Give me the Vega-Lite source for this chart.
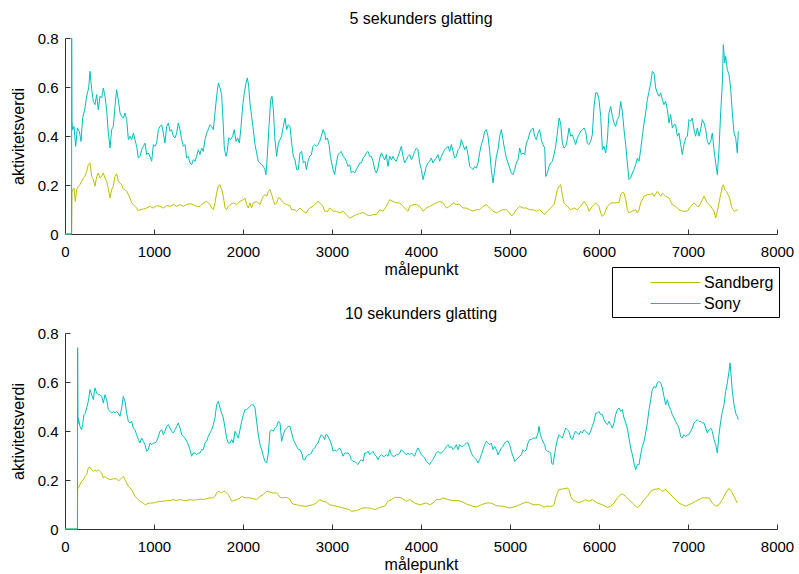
{
"$schema": "https://vega.github.io/schema/vega-lite/v6.json",
"background": "white",
"padding": {"left": 10, "top": 11, "right": 5, "bottom": 2},
"config": {
 "font": "Liberation Sans",
 "view": {"stroke": null},
 "axis": {"grid": false, "domainColor": "#333333", "tickColor": "#333333", "labelColor": "#000000", "titleColor": "#000000", "labelFontSize": 15, "titleFontSize": 16, "titleFontWeight": "normal", "tickSize": -5, "labelPadding": 12, "labelFlush": false, "labelOverlap": false},
 "axisX": {"labelPadding": 15, "titlePadding": 2},
 "axisY": {"titlePadding": 11},
 "title": {"fontSize": 16, "fontWeight": "normal", "color": "#000000"},
 "line": {"strokeWidth": 1}
},
"datasets": {
"p5": [
{"x":0,"y":0,"s":"Sandberg"},{"x":74,"y":0,"s":"Sandberg"},{"x":78,"y":0.17,"s":"Sandberg"},{"x":86,"y":0.181,"s":"Sandberg"},{"x":101,"y":0.188,"s":"Sandberg"},{"x":116,"y":0.133,"s":"Sandberg"},{"x":131,"y":0.181,"s":"Sandberg"},{"x":150,"y":0.195,"s":"Sandberg"},{"x":168,"y":0.201,"s":"Sandberg"},{"x":187,"y":0.215,"s":"Sandberg"},{"x":206,"y":0.229,"s":"Sandberg"},{"x":225,"y":0.235,"s":"Sandberg"},{"x":243,"y":0.256,"s":"Sandberg"},{"x":262,"y":0.283,"s":"Sandberg"},{"x":281,"y":0.29,"s":"Sandberg"},{"x":300,"y":0.235,"s":"Sandberg"},{"x":318,"y":0.222,"s":"Sandberg"},{"x":337,"y":0.195,"s":"Sandberg"},{"x":356,"y":0.235,"s":"Sandberg"},{"x":374,"y":0.249,"s":"Sandberg"},{"x":393,"y":0.229,"s":"Sandberg"},{"x":412,"y":0.235,"s":"Sandberg"},{"x":431,"y":0.249,"s":"Sandberg"},{"x":449,"y":0.229,"s":"Sandberg"},{"x":468,"y":0.215,"s":"Sandberg"},{"x":487,"y":0.184,"s":"Sandberg"},{"x":506,"y":0.147,"s":"Sandberg"},{"x":524,"y":0.181,"s":"Sandberg"},{"x":543,"y":0.195,"s":"Sandberg"},{"x":562,"y":0.235,"s":"Sandberg"},{"x":580,"y":0.246,"s":"Sandberg"},{"x":599,"y":0.215,"s":"Sandberg"},{"x":618,"y":0.208,"s":"Sandberg"},{"x":637,"y":0.201,"s":"Sandberg"},{"x":655,"y":0.184,"s":"Sandberg"},{"x":674,"y":0.181,"s":"Sandberg"},{"x":693,"y":0.174,"s":"Sandberg"},{"x":712,"y":0.161,"s":"Sandberg"},{"x":730,"y":0.147,"s":"Sandberg"},{"x":749,"y":0.127,"s":"Sandberg"},{"x":768,"y":0.12,"s":"Sandberg"},{"x":786,"y":0.113,"s":"Sandberg"},{"x":805,"y":0.106,"s":"Sandberg"},{"x":824,"y":0.095,"s":"Sandberg"},{"x":843,"y":0.099,"s":"Sandberg"},{"x":880,"y":0.102,"s":"Sandberg"},{"x":918,"y":0.106,"s":"Sandberg"},{"x":955,"y":0.113,"s":"Sandberg"},{"x":993,"y":0.106,"s":"Sandberg"},{"x":1030,"y":0.116,"s":"Sandberg"},{"x":1067,"y":0.113,"s":"Sandberg"},{"x":1105,"y":0.106,"s":"Sandberg"},{"x":1142,"y":0.116,"s":"Sandberg"},{"x":1180,"y":0.113,"s":"Sandberg"},{"x":1217,"y":0.12,"s":"Sandberg"},{"x":1255,"y":0.113,"s":"Sandberg"},{"x":1292,"y":0.12,"s":"Sandberg"},{"x":1329,"y":0.113,"s":"Sandberg"},{"x":1367,"y":0.12,"s":"Sandberg"},{"x":1404,"y":0.124,"s":"Sandberg"},{"x":1442,"y":0.12,"s":"Sandberg"},{"x":1479,"y":0.113,"s":"Sandberg"},{"x":1517,"y":0.113,"s":"Sandberg"},{"x":1554,"y":0.127,"s":"Sandberg"},{"x":1592,"y":0.133,"s":"Sandberg"},{"x":1629,"y":0.12,"s":"Sandberg"},{"x":1648,"y":0.106,"s":"Sandberg"},{"x":1667,"y":0.099,"s":"Sandberg"},{"x":1685,"y":0.127,"s":"Sandberg"},{"x":1704,"y":0.167,"s":"Sandberg"},{"x":1723,"y":0.197,"s":"Sandberg"},{"x":1742,"y":0.201,"s":"Sandberg"},{"x":1760,"y":0.181,"s":"Sandberg"},{"x":1779,"y":0.154,"s":"Sandberg"},{"x":1798,"y":0.106,"s":"Sandberg"},{"x":1816,"y":0.099,"s":"Sandberg"},{"x":1835,"y":0.113,"s":"Sandberg"},{"x":1854,"y":0.12,"s":"Sandberg"},{"x":1891,"y":0.127,"s":"Sandberg"},{"x":1929,"y":0.12,"s":"Sandberg"},{"x":1966,"y":0.133,"s":"Sandberg"},{"x":2004,"y":0.14,"s":"Sandberg"},{"x":2022,"y":0.147,"s":"Sandberg"},{"x":2041,"y":0.12,"s":"Sandberg"},{"x":2060,"y":0.106,"s":"Sandberg"},{"x":2078,"y":0.127,"s":"Sandberg"},{"x":2097,"y":0.106,"s":"Sandberg"},{"x":2116,"y":0.127,"s":"Sandberg"},{"x":2153,"y":0.133,"s":"Sandberg"},{"x":2191,"y":0.12,"s":"Sandberg"},{"x":2210,"y":0.14,"s":"Sandberg"},{"x":2228,"y":0.154,"s":"Sandberg"},{"x":2247,"y":0.161,"s":"Sandberg"},{"x":2266,"y":0.154,"s":"Sandberg"},{"x":2285,"y":0.174,"s":"Sandberg"},{"x":2303,"y":0.181,"s":"Sandberg"},{"x":2322,"y":0.161,"s":"Sandberg"},{"x":2341,"y":0.137,"s":"Sandberg"},{"x":2359,"y":0.12,"s":"Sandberg"},{"x":2378,"y":0.127,"s":"Sandberg"},{"x":2397,"y":0.147,"s":"Sandberg"},{"x":2416,"y":0.147,"s":"Sandberg"},{"x":2434,"y":0.137,"s":"Sandberg"},{"x":2453,"y":0.127,"s":"Sandberg"},{"x":2491,"y":0.12,"s":"Sandberg"},{"x":2528,"y":0.116,"s":"Sandberg"},{"x":2547,"y":0.099,"s":"Sandberg"},{"x":2584,"y":0.099,"s":"Sandberg"},{"x":2603,"y":0.093,"s":"Sandberg"},{"x":2640,"y":0.106,"s":"Sandberg"},{"x":2678,"y":0.093,"s":"Sandberg"},{"x":2697,"y":0.088,"s":"Sandberg"},
{"x":2712,"y":0.086,"s":"Sandberg"},{"x":2731,"y":0.099,"s":"Sandberg"},{"x":2749,"y":0.106,"s":"Sandberg"},{"x":2787,"y":0.113,"s":"Sandberg"},{"x":2824,"y":0.127,"s":"Sandberg"},{"x":2843,"y":0.133,"s":"Sandberg"},{"x":2862,"y":0.127,"s":"Sandberg"},{"x":2899,"y":0.113,"s":"Sandberg"},{"x":2918,"y":0.093,"s":"Sandberg"},{"x":2955,"y":0.093,"s":"Sandberg"},{"x":2974,"y":0.106,"s":"Sandberg"},{"x":3012,"y":0.093,"s":"Sandberg"},{"x":3049,"y":0.093,"s":"Sandberg"},{"x":3086,"y":0.086,"s":"Sandberg"},{"x":3124,"y":0.093,"s":"Sandberg"},{"x":3161,"y":0.079,"s":"Sandberg"},{"x":3199,"y":0.065,"s":"Sandberg"},{"x":3236,"y":0.072,"s":"Sandberg"},{"x":3274,"y":0.079,"s":"Sandberg"},{"x":3311,"y":0.083,"s":"Sandberg"},{"x":3349,"y":0.088,"s":"Sandberg"},{"x":3386,"y":0.079,"s":"Sandberg"},{"x":3423,"y":0.075,"s":"Sandberg"},{"x":3461,"y":0.079,"s":"Sandberg"},{"x":3498,"y":0.079,"s":"Sandberg"},{"x":3536,"y":0.099,"s":"Sandberg"},{"x":3573,"y":0.093,"s":"Sandberg"},{"x":3611,"y":0.113,"s":"Sandberg"},{"x":3629,"y":0.127,"s":"Sandberg"},{"x":3648,"y":0.14,"s":"Sandberg"},{"x":3686,"y":0.133,"s":"Sandberg"},{"x":3723,"y":0.127,"s":"Sandberg"},{"x":3761,"y":0.127,"s":"Sandberg"},{"x":3798,"y":0.113,"s":"Sandberg"},{"x":3835,"y":0.099,"s":"Sandberg"},{"x":3854,"y":0.093,"s":"Sandberg"},{"x":3873,"y":0.113,"s":"Sandberg"},{"x":3910,"y":0.12,"s":"Sandberg"},{"x":3948,"y":0.12,"s":"Sandberg"},{"x":3985,"y":0.113,"s":"Sandberg"},{"x":4023,"y":0.093,"s":"Sandberg"},{"x":4060,"y":0.106,"s":"Sandberg"},{"x":4098,"y":0.113,"s":"Sandberg"},{"x":4135,"y":0.12,"s":"Sandberg"},{"x":4172,"y":0.127,"s":"Sandberg"},{"x":4210,"y":0.133,"s":"Sandberg"},{"x":4247,"y":0.127,"s":"Sandberg"},{"x":4285,"y":0.106,"s":"Sandberg"},{"x":4322,"y":0.113,"s":"Sandberg"},{"x":4360,"y":0.127,"s":"Sandberg"},{"x":4397,"y":0.12,"s":"Sandberg"},{"x":4435,"y":0.12,"s":"Sandberg"},{"x":4472,"y":0.106,"s":"Sandberg"},{"x":4510,"y":0.106,"s":"Sandberg"},{"x":4547,"y":0.099,"s":"Sandberg"},{"x":4584,"y":0.093,"s":"Sandberg"},{"x":4622,"y":0.099,"s":"Sandberg"},{"x":4659,"y":0.099,"s":"Sandberg"},{"x":4697,"y":0.113,"s":"Sandberg"},{"x":4734,"y":0.12,"s":"Sandberg"},{"x":4772,"y":0.106,"s":"Sandberg"},{"x":4809,"y":0.093,"s":"Sandberg"},{"x":4847,"y":0.086,"s":"Sandberg"},{"x":4884,"y":0.093,"s":"Sandberg"},{"x":4921,"y":0.099,"s":"Sandberg"},{"x":4959,"y":0.099,"s":"Sandberg"},{"x":4996,"y":0.086,"s":"Sandberg"},{"x":5015,"y":0.075,"s":"Sandberg"},{"x":5034,"y":0.079,"s":"Sandberg"},{"x":5071,"y":0.099,"s":"Sandberg"},{"x":5109,"y":0.113,"s":"Sandberg"},{"x":5146,"y":0.106,"s":"Sandberg"},{"x":5184,"y":0.106,"s":"Sandberg"},{"x":5221,"y":0.099,"s":"Sandberg"},{"x":5259,"y":0.099,"s":"Sandberg"},{"x":5296,"y":0.093,"s":"Sandberg"},{"x":5333,"y":0.099,"s":"Sandberg"},{"x":5371,"y":0.086,"s":"Sandberg"},{"x":5390,"y":0.079,"s":"Sandberg"},
{"x":5401,"y":0.086,"s":"Sandberg"},{"x":5438,"y":0.099,"s":"Sandberg"},{"x":5476,"y":0.113,"s":"Sandberg"},{"x":5495,"y":0.12,"s":"Sandberg"},{"x":5513,"y":0.147,"s":"Sandberg"},{"x":5532,"y":0.181,"s":"Sandberg"},{"x":5551,"y":0.195,"s":"Sandberg"},{"x":5569,"y":0.201,"s":"Sandberg"},{"x":5588,"y":0.161,"s":"Sandberg"},{"x":5607,"y":0.127,"s":"Sandberg"},{"x":5644,"y":0.113,"s":"Sandberg"},{"x":5682,"y":0.099,"s":"Sandberg"},{"x":5719,"y":0.106,"s":"Sandberg"},{"x":5757,"y":0.099,"s":"Sandberg"},{"x":5794,"y":0.113,"s":"Sandberg"},{"x":5832,"y":0.133,"s":"Sandberg"},{"x":5869,"y":0.113,"s":"Sandberg"},{"x":5888,"y":0.093,"s":"Sandberg"},{"x":5925,"y":0.113,"s":"Sandberg"},{"x":5963,"y":0.127,"s":"Sandberg"},{"x":6000,"y":0.113,"s":"Sandberg"},{"x":6019,"y":0.086,"s":"Sandberg"},{"x":6038,"y":0.072,"s":"Sandberg"},{"x":6056,"y":0.079,"s":"Sandberg"},{"x":6094,"y":0.113,"s":"Sandberg"},{"x":6131,"y":0.127,"s":"Sandberg"},{"x":6187,"y":0.127,"s":"Sandberg"},{"x":6225,"y":0.129,"s":"Sandberg"},{"x":6244,"y":0.161,"s":"Sandberg"},{"x":6262,"y":0.17,"s":"Sandberg"},{"x":6281,"y":0.167,"s":"Sandberg"},{"x":6300,"y":0.14,"s":"Sandberg"},{"x":6318,"y":0.099,"s":"Sandberg"},{"x":6337,"y":0.086,"s":"Sandberg"},{"x":6375,"y":0.093,"s":"Sandberg"},{"x":6412,"y":0.099,"s":"Sandberg"},{"x":6431,"y":0.086,"s":"Sandberg"},{"x":6450,"y":0.099,"s":"Sandberg"},{"x":6468,"y":0.127,"s":"Sandberg"},{"x":6506,"y":0.154,"s":"Sandberg"},{"x":6543,"y":0.161,"s":"Sandberg"},{"x":6581,"y":0.161,"s":"Sandberg"},{"x":6599,"y":0.167,"s":"Sandberg"},{"x":6618,"y":0.154,"s":"Sandberg"},{"x":6655,"y":0.174,"s":"Sandberg"},{"x":6693,"y":0.154,"s":"Sandberg"},{"x":6712,"y":0.167,"s":"Sandberg"},{"x":6749,"y":0.154,"s":"Sandberg"},{"x":6787,"y":0.147,"s":"Sandberg"},{"x":6824,"y":0.12,"s":"Sandberg"},{"x":6861,"y":0.113,"s":"Sandberg"},{"x":6899,"y":0.099,"s":"Sandberg"},{"x":6936,"y":0.093,"s":"Sandberg"},{"x":6993,"y":0.093,"s":"Sandberg"},{"x":7030,"y":0.113,"s":"Sandberg"},{"x":7067,"y":0.127,"s":"Sandberg"},{"x":7105,"y":0.113,"s":"Sandberg"},{"x":7124,"y":0.113,"s":"Sandberg"},{"x":7161,"y":0.14,"s":"Sandberg"},{"x":7180,"y":0.154,"s":"Sandberg"},{"x":7217,"y":0.127,"s":"Sandberg"},{"x":7255,"y":0.113,"s":"Sandberg"},{"x":7292,"y":0.093,"s":"Sandberg"},{"x":7311,"y":0.065,"s":"Sandberg"},{"x":7330,"y":0.093,"s":"Sandberg"},{"x":7348,"y":0.127,"s":"Sandberg"},{"x":7367,"y":0.161,"s":"Sandberg"},{"x":7386,"y":0.195,"s":"Sandberg"},{"x":7397,"y":0.201,"s":"Sandberg"},{"x":7412,"y":0.181,"s":"Sandberg"},{"x":7431,"y":0.174,"s":"Sandberg"},{"x":7449,"y":0.161,"s":"Sandberg"},{"x":7468,"y":0.147,"s":"Sandberg"},{"x":7487,"y":0.113,"s":"Sandberg"},{"x":7506,"y":0.099,"s":"Sandberg"},{"x":7524,"y":0.093,"s":"Sandberg"},{"x":7543,"y":0.097,"s":"Sandberg"},{"x":7562,"y":0.099,"s":"Sandberg"},
{"x":0,"y":0,"s":"Sony"},{"x":74,"y":0,"s":"Sony"},{"x":75,"y":0.8,"s":"Sony"},{"x":78,"y":0.46,"s":"Sony"},{"x":86,"y":0.426,"s":"Sony"},{"x":101,"y":0.439,"s":"Sony"},{"x":120,"y":0.358,"s":"Sony"},{"x":139,"y":0.433,"s":"Sony"},{"x":161,"y":0.419,"s":"Sony"},{"x":180,"y":0.378,"s":"Sony"},{"x":198,"y":0.473,"s":"Sony"},{"x":225,"y":0.514,"s":"Sony"},{"x":243,"y":0.562,"s":"Sony"},{"x":266,"y":0.596,"s":"Sony"},{"x":281,"y":0.664,"s":"Sony"},{"x":300,"y":0.589,"s":"Sony"},{"x":318,"y":0.541,"s":"Sony"},{"x":337,"y":0.528,"s":"Sony"},{"x":356,"y":0.569,"s":"Sony"},{"x":374,"y":0.507,"s":"Sony"},{"x":393,"y":0.562,"s":"Sony"},{"x":412,"y":0.555,"s":"Sony"},{"x":431,"y":0.596,"s":"Sony"},{"x":449,"y":0.562,"s":"Sony"},{"x":468,"y":0.507,"s":"Sony"},{"x":487,"y":0.412,"s":"Sony"},{"x":506,"y":0.351,"s":"Sony"},{"x":524,"y":0.426,"s":"Sony"},{"x":543,"y":0.439,"s":"Sony"},{"x":562,"y":0.521,"s":"Sony"},{"x":580,"y":0.589,"s":"Sony"},{"x":599,"y":0.548,"s":"Sony"},{"x":618,"y":0.494,"s":"Sony"},{"x":637,"y":0.48,"s":"Sony"},{"x":655,"y":0.473,"s":"Sony"},{"x":674,"y":0.494,"s":"Sony"},{"x":693,"y":0.467,"s":"Sony"},{"x":712,"y":0.385,"s":"Sony"},{"x":730,"y":0.399,"s":"Sony"},{"x":749,"y":0.385,"s":"Sony"},{"x":768,"y":0.412,"s":"Sony"},{"x":786,"y":0.385,"s":"Sony"},{"x":805,"y":0.358,"s":"Sony"},{"x":824,"y":0.31,"s":"Sony"},{"x":843,"y":0.317,"s":"Sony"},{"x":861,"y":0.344,"s":"Sony"},{"x":880,"y":0.358,"s":"Sony"},{"x":899,"y":0.371,"s":"Sony"},{"x":918,"y":0.324,"s":"Sony"},{"x":936,"y":0.331,"s":"Sony"},{"x":955,"y":0.317,"s":"Sony"},{"x":974,"y":0.297,"s":"Sony"},{"x":993,"y":0.365,"s":"Sony"},{"x":1011,"y":0.358,"s":"Sony"},{"x":1030,"y":0.371,"s":"Sony"},{"x":1049,"y":0.426,"s":"Sony"},{"x":1067,"y":0.439,"s":"Sony"},{"x":1086,"y":0.446,"s":"Sony"},{"x":1105,"y":0.412,"s":"Sony"},{"x":1123,"y":0.371,"s":"Sony"},{"x":1142,"y":0.439,"s":"Sony"},{"x":1161,"y":0.453,"s":"Sony"},{"x":1180,"y":0.419,"s":"Sony"},{"x":1198,"y":0.426,"s":"Sony"},{"x":1217,"y":0.399,"s":"Sony"},{"x":1236,"y":0.392,"s":"Sony"},{"x":1255,"y":0.412,"s":"Sony"},{"x":1273,"y":0.453,"s":"Sony"},{"x":1292,"y":0.426,"s":"Sony"},{"x":1311,"y":0.385,"s":"Sony"},{"x":1329,"y":0.358,"s":"Sony"},{"x":1348,"y":0.365,"s":"Sony"},{"x":1367,"y":0.31,"s":"Sony"},{"x":1386,"y":0.317,"s":"Sony"},{"x":1404,"y":0.29,"s":"Sony"},{"x":1423,"y":0.283,"s":"Sony"},{"x":1442,"y":0.303,"s":"Sony"},{"x":1461,"y":0.297,"s":"Sony"},{"x":1479,"y":0.317,"s":"Sony"},{"x":1498,"y":0.344,"s":"Sony"},{"x":1517,"y":0.324,"s":"Sony"},{"x":1535,"y":0.351,"s":"Sony"},{"x":1554,"y":0.337,"s":"Sony"},{"x":1573,"y":0.385,"s":"Sony"},{"x":1592,"y":0.412,"s":"Sony"},{"x":1610,"y":0.426,"s":"Sony"},{"x":1629,"y":0.446,"s":"Sony"},{"x":1648,"y":0.439,"s":"Sony"},{"x":1667,"y":0.426,"s":"Sony"},{"x":1685,"y":0.494,"s":"Sony"},{"x":1704,"y":0.562,"s":"Sony"},{"x":1723,"y":0.616,"s":"Sony"},{"x":1742,"y":0.596,"s":"Sony"},{"x":1760,"y":0.569,"s":"Sony"},{"x":1779,"y":0.439,"s":"Sony"},{"x":1790,"y":0.351,"s":"Sony"},{"x":1809,"y":0.317,"s":"Sony"},{"x":1824,"y":0.337,"s":"Sony"},{"x":1839,"y":0.392,"s":"Sony"},{"x":1861,"y":0.385,"s":"Sony"},{"x":1884,"y":0.399,"s":"Sony"},{"x":1902,"y":0.426,"s":"Sony"},{"x":1921,"y":0.378,"s":"Sony"},{"x":1940,"y":0.392,"s":"Sony"},{"x":1959,"y":0.371,"s":"Sony"},{"x":1977,"y":0.433,"s":"Sony"},{"x":1996,"y":0.521,"s":"Sony"},{"x":2015,"y":0.576,"s":"Sony"},{"x":2034,"y":0.616,"s":"Sony"},{"x":2049,"y":0.637,"s":"Sony"},{"x":2064,"y":0.603,"s":"Sony"},{"x":2078,"y":0.535,"s":"Sony"},{"x":2097,"y":0.48,"s":"Sony"},{"x":2116,"y":0.426,"s":"Sony"},{"x":2135,"y":0.365,"s":"Sony"},{"x":2153,"y":0.331,"s":"Sony"},{"x":2172,"y":0.297,"s":"Sony"},{"x":2191,"y":0.29,"s":"Sony"},{"x":2210,"y":0.283,"s":"Sony"},{"x":2228,"y":0.276,"s":"Sony"},{"x":2247,"y":0.263,"s":"Sony"},{"x":2258,"y":0.242,"s":"Sony"},{"x":2273,"y":0.317,"s":"Sony"},{"x":2292,"y":0.439,"s":"Sony"},{"x":2311,"y":0.548,"s":"Sony"},{"x":2326,"y":0.562,"s":"Sony"},{"x":2341,"y":0.507,"s":"Sony"},{"x":2359,"y":0.385,"s":"Sony"},{"x":2378,"y":0.317,"s":"Sony"},{"x":2397,"y":0.371,"s":"Sony"},{"x":2416,"y":0.385,"s":"Sony"},{"x":2434,"y":0.399,"s":"Sony"},{"x":2453,"y":0.439,"s":"Sony"},{"x":2472,"y":0.473,"s":"Sony"},{"x":2491,"y":0.426,"s":"Sony"},{"x":2509,"y":0.446,"s":"Sony"},{"x":2528,"y":0.439,"s":"Sony"},{"x":2547,"y":0.371,"s":"Sony"},{"x":2565,"y":0.317,"s":"Sony"},{"x":2584,"y":0.303,"s":"Sony"},{"x":2603,"y":0.263,"s":"Sony"},{"x":2622,"y":0.263,"s":"Sony"},{"x":2640,"y":0.331,"s":"Sony"},{"x":2659,"y":0.337,"s":"Sony"},{"x":2678,"y":0.29,"s":"Sony"},{"x":2697,"y":0.297,"s":"Sony"},
{"x":2712,"y":0.263,"s":"Sony"},{"x":2731,"y":0.297,"s":"Sony"},{"x":2749,"y":0.317,"s":"Sony"},{"x":2768,"y":0.324,"s":"Sony"},{"x":2787,"y":0.358,"s":"Sony"},{"x":2806,"y":0.365,"s":"Sony"},{"x":2824,"y":0.358,"s":"Sony"},{"x":2843,"y":0.365,"s":"Sony"},{"x":2862,"y":0.378,"s":"Sony"},{"x":2880,"y":0.399,"s":"Sony"},{"x":2899,"y":0.426,"s":"Sony"},{"x":2918,"y":0.412,"s":"Sony"},{"x":2929,"y":0.385,"s":"Sony"},{"x":2948,"y":0.392,"s":"Sony"},{"x":2967,"y":0.365,"s":"Sony"},{"x":2982,"y":0.317,"s":"Sony"},{"x":2997,"y":0.29,"s":"Sony"},{"x":3012,"y":0.263,"s":"Sony"},{"x":3030,"y":0.242,"s":"Sony"},{"x":3049,"y":0.29,"s":"Sony"},{"x":3068,"y":0.324,"s":"Sony"},{"x":3086,"y":0.331,"s":"Sony"},{"x":3105,"y":0.337,"s":"Sony"},{"x":3124,"y":0.317,"s":"Sony"},{"x":3143,"y":0.31,"s":"Sony"},{"x":3161,"y":0.297,"s":"Sony"},{"x":3180,"y":0.276,"s":"Sony"},{"x":3199,"y":0.283,"s":"Sony"},{"x":3217,"y":0.249,"s":"Sony"},{"x":3236,"y":0.256,"s":"Sony"},{"x":3255,"y":0.249,"s":"Sony"},{"x":3274,"y":0.263,"s":"Sony"},{"x":3292,"y":0.276,"s":"Sony"},{"x":3311,"y":0.29,"s":"Sony"},{"x":3330,"y":0.29,"s":"Sony"},{"x":3349,"y":0.31,"s":"Sony"},{"x":3367,"y":0.317,"s":"Sony"},{"x":3386,"y":0.331,"s":"Sony"},{"x":3405,"y":0.337,"s":"Sony"},{"x":3423,"y":0.317,"s":"Sony"},{"x":3442,"y":0.317,"s":"Sony"},{"x":3461,"y":0.297,"s":"Sony"},{"x":3480,"y":0.263,"s":"Sony"},{"x":3498,"y":0.249,"s":"Sony"},{"x":3517,"y":0.269,"s":"Sony"},{"x":3536,"y":0.31,"s":"Sony"},{"x":3555,"y":0.331,"s":"Sony"},{"x":3573,"y":0.317,"s":"Sony"},{"x":3592,"y":0.303,"s":"Sony"},{"x":3611,"y":0.324,"s":"Sony"},{"x":3629,"y":0.276,"s":"Sony"},{"x":3648,"y":0.317,"s":"Sony"},{"x":3667,"y":0.303,"s":"Sony"},{"x":3686,"y":0.317,"s":"Sony"},{"x":3704,"y":0.303,"s":"Sony"},{"x":3723,"y":0.297,"s":"Sony"},{"x":3742,"y":0.317,"s":"Sony"},{"x":3761,"y":0.337,"s":"Sony"},{"x":3779,"y":0.358,"s":"Sony"},{"x":3798,"y":0.317,"s":"Sony"},{"x":3817,"y":0.29,"s":"Sony"},{"x":3835,"y":0.303,"s":"Sony"},{"x":3854,"y":0.317,"s":"Sony"},{"x":3873,"y":0.324,"s":"Sony"},{"x":3892,"y":0.303,"s":"Sony"},{"x":3910,"y":0.317,"s":"Sony"},{"x":3929,"y":0.337,"s":"Sony"},{"x":3948,"y":0.351,"s":"Sony"},{"x":3966,"y":0.344,"s":"Sony"},{"x":3985,"y":0.29,"s":"Sony"},{"x":4004,"y":0.263,"s":"Sony"},{"x":4023,"y":0.222,"s":"Sony"},{"x":4041,"y":0.249,"s":"Sony"},{"x":4060,"y":0.276,"s":"Sony"},{"x":4079,"y":0.29,"s":"Sony"},{"x":4098,"y":0.297,"s":"Sony"},{"x":4116,"y":0.31,"s":"Sony"},{"x":4135,"y":0.29,"s":"Sony"},{"x":4154,"y":0.303,"s":"Sony"},{"x":4172,"y":0.31,"s":"Sony"},{"x":4191,"y":0.324,"s":"Sony"},{"x":4210,"y":0.297,"s":"Sony"},{"x":4229,"y":0.317,"s":"Sony"},{"x":4247,"y":0.331,"s":"Sony"},{"x":4266,"y":0.344,"s":"Sony"},{"x":4285,"y":0.351,"s":"Sony"},{"x":4304,"y":0.358,"s":"Sony"},{"x":4322,"y":0.337,"s":"Sony"},{"x":4341,"y":0.365,"s":"Sony"},{"x":4360,"y":0.337,"s":"Sony"},{"x":4378,"y":0.31,"s":"Sony"},{"x":4397,"y":0.317,"s":"Sony"},{"x":4416,"y":0.344,"s":"Sony"},{"x":4435,"y":0.351,"s":"Sony"},{"x":4453,"y":0.385,"s":"Sony"},{"x":4472,"y":0.365,"s":"Sony"},{"x":4491,"y":0.344,"s":"Sony"},{"x":4510,"y":0.358,"s":"Sony"},{"x":4528,"y":0.324,"s":"Sony"},{"x":4547,"y":0.276,"s":"Sony"},{"x":4566,"y":0.269,"s":"Sony"},{"x":4584,"y":0.263,"s":"Sony"},{"x":4603,"y":0.276,"s":"Sony"},{"x":4622,"y":0.269,"s":"Sony"},{"x":4641,"y":0.29,"s":"Sony"},{"x":4659,"y":0.331,"s":"Sony"},{"x":4678,"y":0.365,"s":"Sony"},{"x":4697,"y":0.385,"s":"Sony"},{"x":4715,"y":0.419,"s":"Sony"},{"x":4734,"y":0.426,"s":"Sony"},{"x":4753,"y":0.399,"s":"Sony"},{"x":4772,"y":0.337,"s":"Sony"},{"x":4790,"y":0.263,"s":"Sony"},{"x":4809,"y":0.208,"s":"Sony"},{"x":4828,"y":0.263,"s":"Sony"},{"x":4847,"y":0.317,"s":"Sony"},{"x":4865,"y":0.344,"s":"Sony"},{"x":4884,"y":0.399,"s":"Sony"},{"x":4903,"y":0.426,"s":"Sony"},{"x":4921,"y":0.385,"s":"Sony"},{"x":4940,"y":0.344,"s":"Sony"},{"x":4959,"y":0.31,"s":"Sony"},{"x":4978,"y":0.29,"s":"Sony"},{"x":4996,"y":0.269,"s":"Sony"},{"x":5015,"y":0.249,"s":"Sony"},{"x":5034,"y":0.242,"s":"Sony"},{"x":5053,"y":0.263,"s":"Sony"},{"x":5071,"y":0.29,"s":"Sony"},{"x":5090,"y":0.303,"s":"Sony"},{"x":5109,"y":0.351,"s":"Sony"},{"x":5127,"y":0.324,"s":"Sony"},{"x":5146,"y":0.331,"s":"Sony"},{"x":5165,"y":0.324,"s":"Sony"},{"x":5184,"y":0.371,"s":"Sony"},{"x":5202,"y":0.385,"s":"Sony"},{"x":5221,"y":0.412,"s":"Sony"},{"x":5240,"y":0.426,"s":"Sony"},{"x":5259,"y":0.433,"s":"Sony"},{"x":5277,"y":0.399,"s":"Sony"},{"x":5296,"y":0.385,"s":"Sony"},{"x":5315,"y":0.412,"s":"Sony"},{"x":5333,"y":0.426,"s":"Sony"},{"x":5352,"y":0.385,"s":"Sony"},{"x":5371,"y":0.365,"s":"Sony"},{"x":5390,"y":0.351,"s":"Sony"},
{"x":5401,"y":0.235,"s":"Sony"},{"x":5420,"y":0.249,"s":"Sony"},{"x":5438,"y":0.276,"s":"Sony"},{"x":5457,"y":0.29,"s":"Sony"},{"x":5476,"y":0.297,"s":"Sony"},{"x":5495,"y":0.324,"s":"Sony"},{"x":5513,"y":0.358,"s":"Sony"},{"x":5532,"y":0.412,"s":"Sony"},{"x":5551,"y":0.473,"s":"Sony"},{"x":5569,"y":0.453,"s":"Sony"},{"x":5588,"y":0.371,"s":"Sony"},{"x":5607,"y":0.351,"s":"Sony"},{"x":5626,"y":0.358,"s":"Sony"},{"x":5644,"y":0.385,"s":"Sony"},{"x":5663,"y":0.433,"s":"Sony"},{"x":5682,"y":0.399,"s":"Sony"},{"x":5701,"y":0.405,"s":"Sony"},{"x":5719,"y":0.385,"s":"Sony"},{"x":5738,"y":0.365,"s":"Sony"},{"x":5757,"y":0.392,"s":"Sony"},{"x":5775,"y":0.405,"s":"Sony"},{"x":5794,"y":0.419,"s":"Sony"},{"x":5813,"y":0.426,"s":"Sony"},{"x":5832,"y":0.433,"s":"Sony"},{"x":5850,"y":0.419,"s":"Sony"},{"x":5869,"y":0.371,"s":"Sony"},{"x":5888,"y":0.365,"s":"Sony"},{"x":5906,"y":0.378,"s":"Sony"},{"x":5925,"y":0.405,"s":"Sony"},{"x":5944,"y":0.521,"s":"Sony"},{"x":5963,"y":0.576,"s":"Sony"},{"x":5981,"y":0.576,"s":"Sony"},{"x":6000,"y":0.548,"s":"Sony"},{"x":6019,"y":0.48,"s":"Sony"},{"x":6038,"y":0.344,"s":"Sony"},{"x":6056,"y":0.358,"s":"Sony"},{"x":6075,"y":0.331,"s":"Sony"},{"x":6094,"y":0.385,"s":"Sony"},{"x":6112,"y":0.494,"s":"Sony"},{"x":6131,"y":0.521,"s":"Sony"},{"x":6150,"y":0.48,"s":"Sony"},{"x":6169,"y":0.453,"s":"Sony"},{"x":6187,"y":0.439,"s":"Sony"},{"x":6206,"y":0.467,"s":"Sony"},{"x":6225,"y":0.48,"s":"Sony"},{"x":6244,"y":0.541,"s":"Sony"},{"x":6262,"y":0.501,"s":"Sony"},{"x":6281,"y":0.426,"s":"Sony"},{"x":6300,"y":0.365,"s":"Sony"},{"x":6318,"y":0.29,"s":"Sony"},{"x":6337,"y":0.222,"s":"Sony"},{"x":6356,"y":0.229,"s":"Sony"},{"x":6375,"y":0.249,"s":"Sony"},{"x":6393,"y":0.263,"s":"Sony"},{"x":6412,"y":0.283,"s":"Sony"},{"x":6431,"y":0.31,"s":"Sony"},{"x":6450,"y":0.297,"s":"Sony"},{"x":6468,"y":0.344,"s":"Sony"},{"x":6487,"y":0.399,"s":"Sony"},{"x":6506,"y":0.453,"s":"Sony"},{"x":6524,"y":0.494,"s":"Sony"},{"x":6543,"y":0.548,"s":"Sony"},{"x":6562,"y":0.582,"s":"Sony"},{"x":6581,"y":0.616,"s":"Sony"},{"x":6599,"y":0.664,"s":"Sony"},{"x":6618,"y":0.657,"s":"Sony"},{"x":6637,"y":0.596,"s":"Sony"},{"x":6655,"y":0.576,"s":"Sony"},{"x":6674,"y":0.562,"s":"Sony"},{"x":6693,"y":0.576,"s":"Sony"},{"x":6712,"y":0.548,"s":"Sony"},{"x":6730,"y":0.528,"s":"Sony"},{"x":6749,"y":0.541,"s":"Sony"},{"x":6768,"y":0.507,"s":"Sony"},{"x":6787,"y":0.453,"s":"Sony"},{"x":6805,"y":0.487,"s":"Sony"},{"x":6824,"y":0.433,"s":"Sony"},{"x":6843,"y":0.446,"s":"Sony"},{"x":6861,"y":0.446,"s":"Sony"},{"x":6880,"y":0.399,"s":"Sony"},{"x":6899,"y":0.412,"s":"Sony"},{"x":6918,"y":0.365,"s":"Sony"},{"x":6936,"y":0.324,"s":"Sony"},{"x":6955,"y":0.365,"s":"Sony"},{"x":6974,"y":0.392,"s":"Sony"},{"x":6993,"y":0.399,"s":"Sony"},{"x":7011,"y":0.467,"s":"Sony"},{"x":7030,"y":0.46,"s":"Sony"},{"x":7049,"y":0.473,"s":"Sony"},{"x":7067,"y":0.426,"s":"Sony"},{"x":7086,"y":0.399,"s":"Sony"},{"x":7105,"y":0.433,"s":"Sony"},{"x":7124,"y":0.399,"s":"Sony"},{"x":7142,"y":0.426,"s":"Sony"},{"x":7161,"y":0.467,"s":"Sony"},{"x":7180,"y":0.453,"s":"Sony"},{"x":7199,"y":0.426,"s":"Sony"},{"x":7217,"y":0.378,"s":"Sony"},{"x":7236,"y":0.365,"s":"Sony"},{"x":7255,"y":0.378,"s":"Sony"},{"x":7273,"y":0.412,"s":"Sony"},{"x":7292,"y":0.344,"s":"Sony"},{"x":7311,"y":0.29,"s":"Sony"},{"x":7330,"y":0.242,"s":"Sony"},{"x":7348,"y":0.344,"s":"Sony"},{"x":7367,"y":0.494,"s":"Sony"},{"x":7386,"y":0.616,"s":"Sony"},{"x":7397,"y":0.773,"s":"Sony"},{"x":7412,"y":0.698,"s":"Sony"},{"x":7423,"y":0.725,"s":"Sony"},{"x":7442,"y":0.671,"s":"Sony"},{"x":7461,"y":0.65,"s":"Sony"},{"x":7479,"y":0.596,"s":"Sony"},{"x":7498,"y":0.494,"s":"Sony"},{"x":7517,"y":0.412,"s":"Sony"},{"x":7536,"y":0.392,"s":"Sony"},{"x":7554,"y":0.331,"s":"Sony"},{"x":7565,"y":0.419,"s":"Sony"}
],
"p10": [
{"x":0,"y":0,"s":"Sandberg"},{"x":140,"y":0,"s":"Sandberg"},{"x":142,"y":0.167,"s":"Sandberg"},{"x":150,"y":0.167,"s":"Sandberg"},{"x":168,"y":0.181,"s":"Sandberg"},{"x":187,"y":0.195,"s":"Sandberg"},{"x":206,"y":0.201,"s":"Sandberg"},{"x":225,"y":0.215,"s":"Sandberg"},{"x":243,"y":0.222,"s":"Sandberg"},{"x":262,"y":0.249,"s":"Sandberg"},{"x":281,"y":0.252,"s":"Sandberg"},{"x":300,"y":0.242,"s":"Sandberg"},{"x":318,"y":0.235,"s":"Sandberg"},{"x":337,"y":0.242,"s":"Sandberg"},{"x":356,"y":0.235,"s":"Sandberg"},{"x":374,"y":0.242,"s":"Sandberg"},{"x":393,"y":0.235,"s":"Sandberg"},{"x":412,"y":0.229,"s":"Sandberg"},{"x":431,"y":0.208,"s":"Sandberg"},{"x":449,"y":0.215,"s":"Sandberg"},{"x":468,"y":0.208,"s":"Sandberg"},{"x":506,"y":0.201,"s":"Sandberg"},{"x":543,"y":0.205,"s":"Sandberg"},{"x":580,"y":0.205,"s":"Sandberg"},{"x":599,"y":0.197,"s":"Sandberg"},{"x":618,"y":0.201,"s":"Sandberg"},{"x":655,"y":0.215,"s":"Sandberg"},{"x":674,"y":0.201,"s":"Sandberg"},{"x":693,"y":0.188,"s":"Sandberg"},{"x":712,"y":0.174,"s":"Sandberg"},{"x":730,"y":0.167,"s":"Sandberg"},{"x":749,"y":0.161,"s":"Sandberg"},{"x":768,"y":0.147,"s":"Sandberg"},{"x":786,"y":0.133,"s":"Sandberg"},{"x":805,"y":0.127,"s":"Sandberg"},{"x":824,"y":0.12,"s":"Sandberg"},{"x":843,"y":0.113,"s":"Sandberg"},{"x":861,"y":0.11,"s":"Sandberg"},{"x":880,"y":0.106,"s":"Sandberg"},{"x":899,"y":0.099,"s":"Sandberg"},{"x":918,"y":0.102,"s":"Sandberg"},{"x":955,"y":0.106,"s":"Sandberg"},{"x":993,"y":0.106,"s":"Sandberg"},{"x":1030,"y":0.11,"s":"Sandberg"},{"x":1067,"y":0.113,"s":"Sandberg"},{"x":1105,"y":0.113,"s":"Sandberg"},{"x":1142,"y":0.116,"s":"Sandberg"},{"x":1180,"y":0.116,"s":"Sandberg"},{"x":1217,"y":0.12,"s":"Sandberg"},{"x":1255,"y":0.116,"s":"Sandberg"},{"x":1292,"y":0.12,"s":"Sandberg"},{"x":1329,"y":0.117,"s":"Sandberg"},{"x":1367,"y":0.116,"s":"Sandberg"},{"x":1404,"y":0.12,"s":"Sandberg"},{"x":1442,"y":0.117,"s":"Sandberg"},{"x":1479,"y":0.12,"s":"Sandberg"},{"x":1517,"y":0.122,"s":"Sandberg"},{"x":1554,"y":0.12,"s":"Sandberg"},{"x":1592,"y":0.124,"s":"Sandberg"},{"x":1629,"y":0.127,"s":"Sandberg"},{"x":1667,"y":0.127,"s":"Sandberg"},{"x":1685,"y":0.133,"s":"Sandberg"},{"x":1704,"y":0.147,"s":"Sandberg"},{"x":1723,"y":0.154,"s":"Sandberg"},{"x":1742,"y":0.151,"s":"Sandberg"},{"x":1760,"y":0.147,"s":"Sandberg"},{"x":1779,"y":0.154,"s":"Sandberg"},{"x":1798,"y":0.154,"s":"Sandberg"},{"x":1816,"y":0.147,"s":"Sandberg"},{"x":1835,"y":0.14,"s":"Sandberg"},{"x":1854,"y":0.127,"s":"Sandberg"},{"x":1873,"y":0.113,"s":"Sandberg"},{"x":1891,"y":0.116,"s":"Sandberg"},{"x":1929,"y":0.12,"s":"Sandberg"},{"x":1966,"y":0.127,"s":"Sandberg"},{"x":1985,"y":0.133,"s":"Sandberg"},{"x":2004,"y":0.129,"s":"Sandberg"},{"x":2041,"y":0.127,"s":"Sandberg"},{"x":2078,"y":0.127,"s":"Sandberg"},{"x":2116,"y":0.124,"s":"Sandberg"},{"x":2153,"y":0.12,"s":"Sandberg"},{"x":2191,"y":0.133,"s":"Sandberg"},{"x":2228,"y":0.14,"s":"Sandberg"},{"x":2266,"y":0.154,"s":"Sandberg"},{"x":2303,"y":0.151,"s":"Sandberg"},{"x":2341,"y":0.147,"s":"Sandberg"},{"x":2378,"y":0.147,"s":"Sandberg"},{"x":2397,"y":0.14,"s":"Sandberg"},{"x":2416,"y":0.129,"s":"Sandberg"},{"x":2453,"y":0.127,"s":"Sandberg"},{"x":2491,"y":0.129,"s":"Sandberg"},{"x":2528,"y":0.12,"s":"Sandberg"},{"x":2547,"y":0.106,"s":"Sandberg"},{"x":2565,"y":0.102,"s":"Sandberg"},{"x":2603,"y":0.099,"s":"Sandberg"},{"x":2640,"y":0.095,"s":"Sandberg"},{"x":2697,"y":0.093,"s":"Sandberg"},
{"x":2712,"y":0.093,"s":"Sandberg"},{"x":2787,"y":0.099,"s":"Sandberg"},{"x":2824,"y":0.106,"s":"Sandberg"},{"x":2862,"y":0.12,"s":"Sandberg"},{"x":2899,"y":0.113,"s":"Sandberg"},{"x":2936,"y":0.11,"s":"Sandberg"},{"x":2974,"y":0.099,"s":"Sandberg"},{"x":3049,"y":0.093,"s":"Sandberg"},{"x":3124,"y":0.086,"s":"Sandberg"},{"x":3199,"y":0.079,"s":"Sandberg"},{"x":3217,"y":0.072,"s":"Sandberg"},{"x":3274,"y":0.075,"s":"Sandberg"},{"x":3349,"y":0.086,"s":"Sandberg"},{"x":3423,"y":0.086,"s":"Sandberg"},{"x":3480,"y":0.079,"s":"Sandberg"},{"x":3536,"y":0.088,"s":"Sandberg"},{"x":3592,"y":0.093,"s":"Sandberg"},{"x":3629,"y":0.113,"s":"Sandberg"},{"x":3667,"y":0.12,"s":"Sandberg"},{"x":3704,"y":0.129,"s":"Sandberg"},{"x":3742,"y":0.129,"s":"Sandberg"},{"x":3779,"y":0.127,"s":"Sandberg"},{"x":3835,"y":0.113,"s":"Sandberg"},{"x":3873,"y":0.12,"s":"Sandberg"},{"x":3929,"y":0.106,"s":"Sandberg"},{"x":3985,"y":0.099,"s":"Sandberg"},{"x":4060,"y":0.106,"s":"Sandberg"},{"x":4098,"y":0.099,"s":"Sandberg"},{"x":4135,"y":0.106,"s":"Sandberg"},{"x":4172,"y":0.12,"s":"Sandberg"},{"x":4210,"y":0.12,"s":"Sandberg"},{"x":4247,"y":0.127,"s":"Sandberg"},{"x":4304,"y":0.12,"s":"Sandberg"},{"x":4360,"y":0.116,"s":"Sandberg"},{"x":4416,"y":0.116,"s":"Sandberg"},{"x":4472,"y":0.11,"s":"Sandberg"},{"x":4510,"y":0.102,"s":"Sandberg"},{"x":4584,"y":0.093,"s":"Sandberg"},{"x":4622,"y":0.09,"s":"Sandberg"},{"x":4678,"y":0.099,"s":"Sandberg"},{"x":4734,"y":0.106,"s":"Sandberg"},{"x":4790,"y":0.106,"s":"Sandberg"},{"x":4847,"y":0.095,"s":"Sandberg"},{"x":4921,"y":0.093,"s":"Sandberg"},{"x":4996,"y":0.086,"s":"Sandberg"},{"x":5071,"y":0.093,"s":"Sandberg"},{"x":5127,"y":0.102,"s":"Sandberg"},{"x":5184,"y":0.11,"s":"Sandberg"},{"x":5221,"y":0.106,"s":"Sandberg"},{"x":5259,"y":0.099,"s":"Sandberg"},{"x":5333,"y":0.099,"s":"Sandberg"},{"x":5390,"y":0.088,"s":"Sandberg"},
{"x":5401,"y":0.093,"s":"Sandberg"},{"x":5476,"y":0.093,"s":"Sandberg"},{"x":5495,"y":0.099,"s":"Sandberg"},{"x":5513,"y":0.127,"s":"Sandberg"},{"x":5532,"y":0.147,"s":"Sandberg"},{"x":5551,"y":0.161,"s":"Sandberg"},{"x":5588,"y":0.163,"s":"Sandberg"},{"x":5644,"y":0.167,"s":"Sandberg"},{"x":5663,"y":0.161,"s":"Sandberg"},{"x":5682,"y":0.133,"s":"Sandberg"},{"x":5701,"y":0.12,"s":"Sandberg"},{"x":5738,"y":0.113,"s":"Sandberg"},{"x":5775,"y":0.106,"s":"Sandberg"},{"x":5813,"y":0.113,"s":"Sandberg"},{"x":5850,"y":0.12,"s":"Sandberg"},{"x":5888,"y":0.113,"s":"Sandberg"},{"x":5925,"y":0.12,"s":"Sandberg"},{"x":5981,"y":0.106,"s":"Sandberg"},{"x":6038,"y":0.099,"s":"Sandberg"},{"x":6094,"y":0.088,"s":"Sandberg"},{"x":6131,"y":0.093,"s":"Sandberg"},{"x":6169,"y":0.106,"s":"Sandberg"},{"x":6206,"y":0.127,"s":"Sandberg"},{"x":6244,"y":0.14,"s":"Sandberg"},{"x":6262,"y":0.143,"s":"Sandberg"},{"x":6300,"y":0.133,"s":"Sandberg"},{"x":6337,"y":0.12,"s":"Sandberg"},{"x":6375,"y":0.106,"s":"Sandberg"},{"x":6412,"y":0.093,"s":"Sandberg"},{"x":6431,"y":0.088,"s":"Sandberg"},{"x":6468,"y":0.099,"s":"Sandberg"},{"x":6506,"y":0.12,"s":"Sandberg"},{"x":6543,"y":0.133,"s":"Sandberg"},{"x":6581,"y":0.154,"s":"Sandberg"},{"x":6618,"y":0.161,"s":"Sandberg"},{"x":6674,"y":0.165,"s":"Sandberg"},{"x":6712,"y":0.154,"s":"Sandberg"},{"x":6749,"y":0.161,"s":"Sandberg"},{"x":6787,"y":0.147,"s":"Sandberg"},{"x":6824,"y":0.133,"s":"Sandberg"},{"x":6861,"y":0.12,"s":"Sandberg"},{"x":6899,"y":0.106,"s":"Sandberg"},{"x":6936,"y":0.099,"s":"Sandberg"},{"x":6974,"y":0.093,"s":"Sandberg"},{"x":7011,"y":0.099,"s":"Sandberg"},{"x":7049,"y":0.106,"s":"Sandberg"},{"x":7086,"y":0.113,"s":"Sandberg"},{"x":7124,"y":0.12,"s":"Sandberg"},{"x":7161,"y":0.127,"s":"Sandberg"},{"x":7199,"y":0.127,"s":"Sandberg"},{"x":7236,"y":0.127,"s":"Sandberg"},{"x":7273,"y":0.106,"s":"Sandberg"},{"x":7311,"y":0.093,"s":"Sandberg"},{"x":7348,"y":0.099,"s":"Sandberg"},{"x":7386,"y":0.12,"s":"Sandberg"},{"x":7423,"y":0.147,"s":"Sandberg"},{"x":7461,"y":0.165,"s":"Sandberg"},{"x":7487,"y":0.154,"s":"Sandberg"},{"x":7517,"y":0.133,"s":"Sandberg"},{"x":7554,"y":0.106,"s":"Sandberg"},
{"x":0,"y":0,"s":"Sony"},{"x":140,"y":0,"s":"Sony"},{"x":142,"y":0.74,"s":"Sony"},{"x":146,"y":0.43,"s":"Sony"},{"x":150,"y":0.453,"s":"Sony"},{"x":168,"y":0.419,"s":"Sony"},{"x":187,"y":0.405,"s":"Sony"},{"x":198,"y":0.426,"s":"Sony"},{"x":213,"y":0.467,"s":"Sony"},{"x":228,"y":0.473,"s":"Sony"},{"x":243,"y":0.494,"s":"Sony"},{"x":262,"y":0.521,"s":"Sony"},{"x":281,"y":0.569,"s":"Sony"},{"x":300,"y":0.548,"s":"Sony"},{"x":318,"y":0.528,"s":"Sony"},{"x":337,"y":0.576,"s":"Sony"},{"x":356,"y":0.555,"s":"Sony"},{"x":374,"y":0.548,"s":"Sony"},{"x":393,"y":0.548,"s":"Sony"},{"x":412,"y":0.541,"s":"Sony"},{"x":431,"y":0.514,"s":"Sony"},{"x":449,"y":0.548,"s":"Sony"},{"x":468,"y":0.528,"s":"Sony"},{"x":487,"y":0.487,"s":"Sony"},{"x":506,"y":0.48,"s":"Sony"},{"x":524,"y":0.473,"s":"Sony"},{"x":543,"y":0.48,"s":"Sony"},{"x":562,"y":0.473,"s":"Sony"},{"x":580,"y":0.48,"s":"Sony"},{"x":599,"y":0.473,"s":"Sony"},{"x":618,"y":0.46,"s":"Sony"},{"x":637,"y":0.494,"s":"Sony"},{"x":655,"y":0.541,"s":"Sony"},{"x":674,"y":0.521,"s":"Sony"},{"x":693,"y":0.473,"s":"Sony"},{"x":712,"y":0.439,"s":"Sony"},{"x":730,"y":0.433,"s":"Sony"},{"x":749,"y":0.439,"s":"Sony"},{"x":768,"y":0.412,"s":"Sony"},{"x":786,"y":0.405,"s":"Sony"},{"x":805,"y":0.385,"s":"Sony"},{"x":824,"y":0.365,"s":"Sony"},{"x":843,"y":0.351,"s":"Sony"},{"x":861,"y":0.371,"s":"Sony"},{"x":880,"y":0.358,"s":"Sony"},{"x":899,"y":0.344,"s":"Sony"},{"x":918,"y":0.317,"s":"Sony"},{"x":936,"y":0.324,"s":"Sony"},{"x":955,"y":0.351,"s":"Sony"},{"x":974,"y":0.344,"s":"Sony"},{"x":993,"y":0.351,"s":"Sony"},{"x":1011,"y":0.351,"s":"Sony"},{"x":1030,"y":0.358,"s":"Sony"},{"x":1049,"y":0.378,"s":"Sony"},{"x":1067,"y":0.399,"s":"Sony"},{"x":1086,"y":0.405,"s":"Sony"},{"x":1105,"y":0.385,"s":"Sony"},{"x":1123,"y":0.399,"s":"Sony"},{"x":1142,"y":0.419,"s":"Sony"},{"x":1161,"y":0.426,"s":"Sony"},{"x":1180,"y":0.412,"s":"Sony"},{"x":1198,"y":0.399,"s":"Sony"},{"x":1217,"y":0.392,"s":"Sony"},{"x":1236,"y":0.405,"s":"Sony"},{"x":1255,"y":0.419,"s":"Sony"},{"x":1273,"y":0.433,"s":"Sony"},{"x":1292,"y":0.412,"s":"Sony"},{"x":1311,"y":0.385,"s":"Sony"},{"x":1329,"y":0.378,"s":"Sony"},{"x":1348,"y":0.371,"s":"Sony"},{"x":1367,"y":0.358,"s":"Sony"},{"x":1386,"y":0.344,"s":"Sony"},{"x":1404,"y":0.324,"s":"Sony"},{"x":1423,"y":0.297,"s":"Sony"},{"x":1442,"y":0.31,"s":"Sony"},{"x":1461,"y":0.31,"s":"Sony"},{"x":1479,"y":0.303,"s":"Sony"},{"x":1498,"y":0.31,"s":"Sony"},{"x":1517,"y":0.31,"s":"Sony"},{"x":1535,"y":0.324,"s":"Sony"},{"x":1554,"y":0.324,"s":"Sony"},{"x":1573,"y":0.351,"s":"Sony"},{"x":1592,"y":0.358,"s":"Sony"},{"x":1610,"y":0.378,"s":"Sony"},{"x":1629,"y":0.392,"s":"Sony"},{"x":1648,"y":0.405,"s":"Sony"},{"x":1667,"y":0.426,"s":"Sony"},{"x":1685,"y":0.453,"s":"Sony"},{"x":1704,"y":0.507,"s":"Sony"},{"x":1723,"y":0.521,"s":"Sony"},{"x":1742,"y":0.494,"s":"Sony"},{"x":1760,"y":0.473,"s":"Sony"},{"x":1779,"y":0.453,"s":"Sony"},{"x":1798,"y":0.412,"s":"Sony"},{"x":1816,"y":0.371,"s":"Sony"},{"x":1835,"y":0.351,"s":"Sony"},{"x":1854,"y":0.351,"s":"Sony"},{"x":1873,"y":0.365,"s":"Sony"},{"x":1891,"y":0.351,"s":"Sony"},{"x":1910,"y":0.399,"s":"Sony"},{"x":1929,"y":0.385,"s":"Sony"},{"x":1947,"y":0.371,"s":"Sony"},{"x":1966,"y":0.405,"s":"Sony"},{"x":1985,"y":0.439,"s":"Sony"},{"x":2004,"y":0.467,"s":"Sony"},{"x":2022,"y":0.487,"s":"Sony"},{"x":2041,"y":0.487,"s":"Sony"},{"x":2060,"y":0.494,"s":"Sony"},{"x":2078,"y":0.501,"s":"Sony"},{"x":2097,"y":0.507,"s":"Sony"},{"x":2116,"y":0.507,"s":"Sony"},{"x":2135,"y":0.494,"s":"Sony"},{"x":2153,"y":0.439,"s":"Sony"},{"x":2172,"y":0.385,"s":"Sony"},{"x":2191,"y":0.344,"s":"Sony"},{"x":2210,"y":0.324,"s":"Sony"},{"x":2228,"y":0.297,"s":"Sony"},{"x":2247,"y":0.276,"s":"Sony"},{"x":2266,"y":0.269,"s":"Sony"},{"x":2285,"y":0.31,"s":"Sony"},{"x":2303,"y":0.399,"s":"Sony"},{"x":2322,"y":0.405,"s":"Sony"},{"x":2341,"y":0.399,"s":"Sony"},{"x":2359,"y":0.412,"s":"Sony"},{"x":2378,"y":0.419,"s":"Sony"},{"x":2397,"y":0.439,"s":"Sony"},{"x":2416,"y":0.433,"s":"Sony"},{"x":2434,"y":0.358,"s":"Sony"},{"x":2453,"y":0.385,"s":"Sony"},{"x":2472,"y":0.405,"s":"Sony"},{"x":2491,"y":0.412,"s":"Sony"},{"x":2509,"y":0.419,"s":"Sony"},{"x":2528,"y":0.419,"s":"Sony"},{"x":2547,"y":0.392,"s":"Sony"},{"x":2565,"y":0.365,"s":"Sony"},{"x":2584,"y":0.351,"s":"Sony"},{"x":2603,"y":0.337,"s":"Sony"},{"x":2622,"y":0.324,"s":"Sony"},{"x":2640,"y":0.324,"s":"Sony"},{"x":2659,"y":0.31,"s":"Sony"},{"x":2678,"y":0.283,"s":"Sony"},{"x":2697,"y":0.283,"s":"Sony"},
{"x":2712,"y":0.297,"s":"Sony"},{"x":2731,"y":0.303,"s":"Sony"},{"x":2749,"y":0.303,"s":"Sony"},{"x":2768,"y":0.31,"s":"Sony"},{"x":2787,"y":0.324,"s":"Sony"},{"x":2806,"y":0.331,"s":"Sony"},{"x":2824,"y":0.344,"s":"Sony"},{"x":2843,"y":0.351,"s":"Sony"},{"x":2862,"y":0.371,"s":"Sony"},{"x":2880,"y":0.385,"s":"Sony"},{"x":2899,"y":0.378,"s":"Sony"},{"x":2918,"y":0.365,"s":"Sony"},{"x":2929,"y":0.385,"s":"Sony"},{"x":2944,"y":0.385,"s":"Sony"},{"x":2963,"y":0.371,"s":"Sony"},{"x":2982,"y":0.358,"s":"Sony"},{"x":3000,"y":0.337,"s":"Sony"},{"x":3012,"y":0.317,"s":"Sony"},{"x":3030,"y":0.324,"s":"Sony"},{"x":3049,"y":0.317,"s":"Sony"},{"x":3068,"y":0.324,"s":"Sony"},{"x":3086,"y":0.331,"s":"Sony"},{"x":3105,"y":0.317,"s":"Sony"},{"x":3124,"y":0.297,"s":"Sony"},{"x":3143,"y":0.31,"s":"Sony"},{"x":3161,"y":0.31,"s":"Sony"},{"x":3180,"y":0.31,"s":"Sony"},{"x":3199,"y":0.303,"s":"Sony"},{"x":3217,"y":0.283,"s":"Sony"},{"x":3236,"y":0.276,"s":"Sony"},{"x":3255,"y":0.276,"s":"Sony"},{"x":3274,"y":0.269,"s":"Sony"},{"x":3292,"y":0.263,"s":"Sony"},{"x":3311,"y":0.276,"s":"Sony"},{"x":3330,"y":0.283,"s":"Sony"},{"x":3349,"y":0.276,"s":"Sony"},{"x":3367,"y":0.31,"s":"Sony"},{"x":3386,"y":0.31,"s":"Sony"},{"x":3405,"y":0.317,"s":"Sony"},{"x":3423,"y":0.303,"s":"Sony"},{"x":3442,"y":0.31,"s":"Sony"},{"x":3461,"y":0.317,"s":"Sony"},{"x":3480,"y":0.303,"s":"Sony"},{"x":3498,"y":0.297,"s":"Sony"},{"x":3517,"y":0.283,"s":"Sony"},{"x":3536,"y":0.297,"s":"Sony"},{"x":3555,"y":0.303,"s":"Sony"},{"x":3573,"y":0.297,"s":"Sony"},{"x":3592,"y":0.297,"s":"Sony"},{"x":3611,"y":0.303,"s":"Sony"},{"x":3629,"y":0.297,"s":"Sony"},{"x":3648,"y":0.324,"s":"Sony"},{"x":3667,"y":0.303,"s":"Sony"},{"x":3686,"y":0.297,"s":"Sony"},{"x":3704,"y":0.297,"s":"Sony"},{"x":3723,"y":0.303,"s":"Sony"},{"x":3742,"y":0.303,"s":"Sony"},{"x":3761,"y":0.31,"s":"Sony"},{"x":3779,"y":0.324,"s":"Sony"},{"x":3798,"y":0.317,"s":"Sony"},{"x":3817,"y":0.31,"s":"Sony"},{"x":3835,"y":0.303,"s":"Sony"},{"x":3854,"y":0.31,"s":"Sony"},{"x":3873,"y":0.303,"s":"Sony"},{"x":3892,"y":0.31,"s":"Sony"},{"x":3910,"y":0.303,"s":"Sony"},{"x":3929,"y":0.297,"s":"Sony"},{"x":3948,"y":0.317,"s":"Sony"},{"x":3966,"y":0.331,"s":"Sony"},{"x":3985,"y":0.317,"s":"Sony"},{"x":4004,"y":0.303,"s":"Sony"},{"x":4023,"y":0.297,"s":"Sony"},{"x":4041,"y":0.29,"s":"Sony"},{"x":4060,"y":0.276,"s":"Sony"},{"x":4079,"y":0.269,"s":"Sony"},{"x":4098,"y":0.263,"s":"Sony"},{"x":4116,"y":0.276,"s":"Sony"},{"x":4135,"y":0.283,"s":"Sony"},{"x":4154,"y":0.297,"s":"Sony"},{"x":4172,"y":0.31,"s":"Sony"},{"x":4191,"y":0.317,"s":"Sony"},{"x":4210,"y":0.31,"s":"Sony"},{"x":4229,"y":0.31,"s":"Sony"},{"x":4247,"y":0.317,"s":"Sony"},{"x":4266,"y":0.324,"s":"Sony"},{"x":4285,"y":0.337,"s":"Sony"},{"x":4304,"y":0.344,"s":"Sony"},{"x":4322,"y":0.331,"s":"Sony"},{"x":4341,"y":0.337,"s":"Sony"},{"x":4360,"y":0.324,"s":"Sony"},{"x":4378,"y":0.331,"s":"Sony"},{"x":4397,"y":0.344,"s":"Sony"},{"x":4416,"y":0.324,"s":"Sony"},{"x":4435,"y":0.344,"s":"Sony"},{"x":4453,"y":0.337,"s":"Sony"},{"x":4472,"y":0.337,"s":"Sony"},{"x":4491,"y":0.344,"s":"Sony"},{"x":4510,"y":0.351,"s":"Sony"},{"x":4528,"y":0.351,"s":"Sony"},{"x":4547,"y":0.331,"s":"Sony"},{"x":4566,"y":0.31,"s":"Sony"},{"x":4584,"y":0.297,"s":"Sony"},{"x":4603,"y":0.29,"s":"Sony"},{"x":4622,"y":0.283,"s":"Sony"},{"x":4641,"y":0.269,"s":"Sony"},{"x":4659,"y":0.283,"s":"Sony"},{"x":4678,"y":0.303,"s":"Sony"},{"x":4697,"y":0.324,"s":"Sony"},{"x":4715,"y":0.344,"s":"Sony"},{"x":4734,"y":0.358,"s":"Sony"},{"x":4753,"y":0.351,"s":"Sony"},{"x":4772,"y":0.344,"s":"Sony"},{"x":4790,"y":0.351,"s":"Sony"},{"x":4809,"y":0.324,"s":"Sony"},{"x":4828,"y":0.337,"s":"Sony"},{"x":4847,"y":0.324,"s":"Sony"},{"x":4865,"y":0.303,"s":"Sony"},{"x":4884,"y":0.317,"s":"Sony"},{"x":4903,"y":0.331,"s":"Sony"},{"x":4921,"y":0.337,"s":"Sony"},{"x":4940,"y":0.351,"s":"Sony"},{"x":4959,"y":0.358,"s":"Sony"},{"x":4978,"y":0.358,"s":"Sony"},{"x":4996,"y":0.344,"s":"Sony"},{"x":5015,"y":0.317,"s":"Sony"},{"x":5034,"y":0.297,"s":"Sony"},{"x":5053,"y":0.276,"s":"Sony"},{"x":5071,"y":0.283,"s":"Sony"},{"x":5090,"y":0.29,"s":"Sony"},{"x":5109,"y":0.297,"s":"Sony"},{"x":5127,"y":0.303,"s":"Sony"},{"x":5146,"y":0.324,"s":"Sony"},{"x":5165,"y":0.317,"s":"Sony"},{"x":5184,"y":0.324,"s":"Sony"},{"x":5202,"y":0.351,"s":"Sony"},{"x":5221,"y":0.365,"s":"Sony"},{"x":5240,"y":0.365,"s":"Sony"},{"x":5259,"y":0.371,"s":"Sony"},{"x":5277,"y":0.371,"s":"Sony"},{"x":5296,"y":0.371,"s":"Sony"},{"x":5315,"y":0.392,"s":"Sony"},{"x":5326,"y":0.419,"s":"Sony"},{"x":5341,"y":0.385,"s":"Sony"},{"x":5360,"y":0.365,"s":"Sony"},{"x":5378,"y":0.351,"s":"Sony"},{"x":5390,"y":0.344,"s":"Sony"},
{"x":5401,"y":0.324,"s":"Sony"},{"x":5420,"y":0.317,"s":"Sony"},{"x":5438,"y":0.317,"s":"Sony"},{"x":5457,"y":0.31,"s":"Sony"},{"x":5468,"y":0.269,"s":"Sony"},{"x":5483,"y":0.263,"s":"Sony"},{"x":5495,"y":0.29,"s":"Sony"},{"x":5513,"y":0.331,"s":"Sony"},{"x":5532,"y":0.365,"s":"Sony"},{"x":5551,"y":0.385,"s":"Sony"},{"x":5569,"y":0.378,"s":"Sony"},{"x":5588,"y":0.371,"s":"Sony"},{"x":5607,"y":0.392,"s":"Sony"},{"x":5626,"y":0.412,"s":"Sony"},{"x":5644,"y":0.405,"s":"Sony"},{"x":5663,"y":0.399,"s":"Sony"},{"x":5682,"y":0.371,"s":"Sony"},{"x":5701,"y":0.365,"s":"Sony"},{"x":5719,"y":0.385,"s":"Sony"},{"x":5738,"y":0.399,"s":"Sony"},{"x":5757,"y":0.392,"s":"Sony"},{"x":5775,"y":0.385,"s":"Sony"},{"x":5794,"y":0.399,"s":"Sony"},{"x":5813,"y":0.392,"s":"Sony"},{"x":5832,"y":0.405,"s":"Sony"},{"x":5850,"y":0.399,"s":"Sony"},{"x":5869,"y":0.392,"s":"Sony"},{"x":5888,"y":0.385,"s":"Sony"},{"x":5906,"y":0.399,"s":"Sony"},{"x":5925,"y":0.419,"s":"Sony"},{"x":5944,"y":0.439,"s":"Sony"},{"x":5963,"y":0.473,"s":"Sony"},{"x":5981,"y":0.473,"s":"Sony"},{"x":6000,"y":0.48,"s":"Sony"},{"x":6019,"y":0.467,"s":"Sony"},{"x":6038,"y":0.467,"s":"Sony"},{"x":6056,"y":0.446,"s":"Sony"},{"x":6075,"y":0.433,"s":"Sony"},{"x":6094,"y":0.426,"s":"Sony"},{"x":6112,"y":0.439,"s":"Sony"},{"x":6131,"y":0.426,"s":"Sony"},{"x":6150,"y":0.412,"s":"Sony"},{"x":6169,"y":0.433,"s":"Sony"},{"x":6187,"y":0.467,"s":"Sony"},{"x":6206,"y":0.487,"s":"Sony"},{"x":6225,"y":0.494,"s":"Sony"},{"x":6244,"y":0.48,"s":"Sony"},{"x":6262,"y":0.487,"s":"Sony"},{"x":6281,"y":0.453,"s":"Sony"},{"x":6300,"y":0.433,"s":"Sony"},{"x":6318,"y":0.412,"s":"Sony"},{"x":6337,"y":0.371,"s":"Sony"},{"x":6356,"y":0.331,"s":"Sony"},{"x":6375,"y":0.303,"s":"Sony"},{"x":6393,"y":0.269,"s":"Sony"},{"x":6412,"y":0.242,"s":"Sony"},{"x":6431,"y":0.263,"s":"Sony"},{"x":6450,"y":0.263,"s":"Sony"},{"x":6468,"y":0.303,"s":"Sony"},{"x":6487,"y":0.337,"s":"Sony"},{"x":6506,"y":0.358,"s":"Sony"},{"x":6524,"y":0.392,"s":"Sony"},{"x":6543,"y":0.433,"s":"Sony"},{"x":6562,"y":0.487,"s":"Sony"},{"x":6581,"y":0.528,"s":"Sony"},{"x":6599,"y":0.569,"s":"Sony"},{"x":6618,"y":0.582,"s":"Sony"},{"x":6637,"y":0.576,"s":"Sony"},{"x":6655,"y":0.596,"s":"Sony"},{"x":6674,"y":0.603,"s":"Sony"},{"x":6693,"y":0.596,"s":"Sony"},{"x":6712,"y":0.576,"s":"Sony"},{"x":6730,"y":0.541,"s":"Sony"},{"x":6749,"y":0.507,"s":"Sony"},{"x":6768,"y":0.528,"s":"Sony"},{"x":6787,"y":0.501,"s":"Sony"},{"x":6805,"y":0.487,"s":"Sony"},{"x":6824,"y":0.467,"s":"Sony"},{"x":6843,"y":0.453,"s":"Sony"},{"x":6861,"y":0.439,"s":"Sony"},{"x":6880,"y":0.426,"s":"Sony"},{"x":6899,"y":0.412,"s":"Sony"},{"x":6918,"y":0.378,"s":"Sony"},{"x":6936,"y":0.371,"s":"Sony"},{"x":6955,"y":0.385,"s":"Sony"},{"x":6974,"y":0.378,"s":"Sony"},{"x":6993,"y":0.385,"s":"Sony"},{"x":7011,"y":0.385,"s":"Sony"},{"x":7030,"y":0.399,"s":"Sony"},{"x":7049,"y":0.412,"s":"Sony"},{"x":7067,"y":0.433,"s":"Sony"},{"x":7086,"y":0.439,"s":"Sony"},{"x":7105,"y":0.446,"s":"Sony"},{"x":7124,"y":0.439,"s":"Sony"},{"x":7142,"y":0.439,"s":"Sony"},{"x":7161,"y":0.433,"s":"Sony"},{"x":7180,"y":0.433,"s":"Sony"},{"x":7199,"y":0.412,"s":"Sony"},{"x":7217,"y":0.392,"s":"Sony"},{"x":7236,"y":0.405,"s":"Sony"},{"x":7255,"y":0.412,"s":"Sony"},{"x":7273,"y":0.399,"s":"Sony"},{"x":7292,"y":0.365,"s":"Sony"},{"x":7311,"y":0.344,"s":"Sony"},{"x":7330,"y":0.31,"s":"Sony"},{"x":7348,"y":0.385,"s":"Sony"},{"x":7367,"y":0.439,"s":"Sony"},{"x":7386,"y":0.48,"s":"Sony"},{"x":7405,"y":0.507,"s":"Sony"},{"x":7423,"y":0.562,"s":"Sony"},{"x":7442,"y":0.596,"s":"Sony"},{"x":7461,"y":0.644,"s":"Sony"},{"x":7472,"y":0.678,"s":"Sony"},{"x":7487,"y":0.616,"s":"Sony"},{"x":7498,"y":0.562,"s":"Sony"},{"x":7517,"y":0.507,"s":"Sony"},{"x":7536,"y":0.473,"s":"Sony"},{"x":7554,"y":0.46,"s":"Sony"},{"x":7565,"y":0.446,"s":"Sony"}
]
},
"vconcat": [
 {
  "title": "5 sekunders glatting",
  "width": 712, "height": 196,
  "data": {"name": "p5"},
  "mark": {"type": "line"},
  "encoding": {
   "x": {"field": "x", "type": "quantitative", "scale": {"domain": [0, 8000], "nice": false}, "axis": {"title": "målepunkt", "values": [0,1000,2000,3000,4000,5000,6000,7000,8000], "format": "d"}},
   "y": {"field": "y", "type": "quantitative", "scale": {"domain": [0, 0.8], "nice": false}, "axis": {"title": "aktivitetsverdi", "values": [0,0.2,0.4,0.6,0.8], "format": "~g"}},
   "color": {"field": "s", "type": "nominal", "scale": {"domain": ["Sandberg", "Sony"], "range": ["#BFBF00", "#00BFBF"]},
     "legend": {"title": null, "orient": "none", "legendX": 547, "legendY": 229, "symbolType": "M-2.5,0H2.5", "symbolSize": 400, "symbolStrokeWidth": 1, "symbolOffset": 48, "padding": 5, "labelFontSize": 16, "labelColor": "#000000", "labelOffset": 18, "rowPadding": 2, "strokeColor": "#000000", "fillColor": "#ffffff"}},
   "order": {"field": "x", "type": "quantitative"}
  }
 },
 {
  "title": "10 sekunders glatting",
  "width": 712, "height": 196,
  "data": {"name": "p10"},
  "mark": {"type": "line"},
  "encoding": {
   "x": {"field": "x", "type": "quantitative", "scale": {"domain": [0, 8000], "nice": false}, "axis": {"title": "målepunkt", "values": [0,1000,2000,3000,4000,5000,6000,7000,8000], "format": "d"}},
   "y": {"field": "y", "type": "quantitative", "scale": {"domain": [0, 0.8], "nice": false}, "axis": {"title": "aktivitetsverdi", "values": [0,0.2,0.4,0.6,0.8], "format": "~g"}},
   "color": {"field": "s", "type": "nominal", "scale": {"domain": ["Sandberg", "Sony"], "range": ["#BFBF00", "#00BFBF"]}, "legend": null},
   "order": {"field": "x", "type": "quantitative"}
  }
 }
],
"spacing": 99,
"bounds": "flush",
"resolve": {"scale": {"color": "independent"}}
}
